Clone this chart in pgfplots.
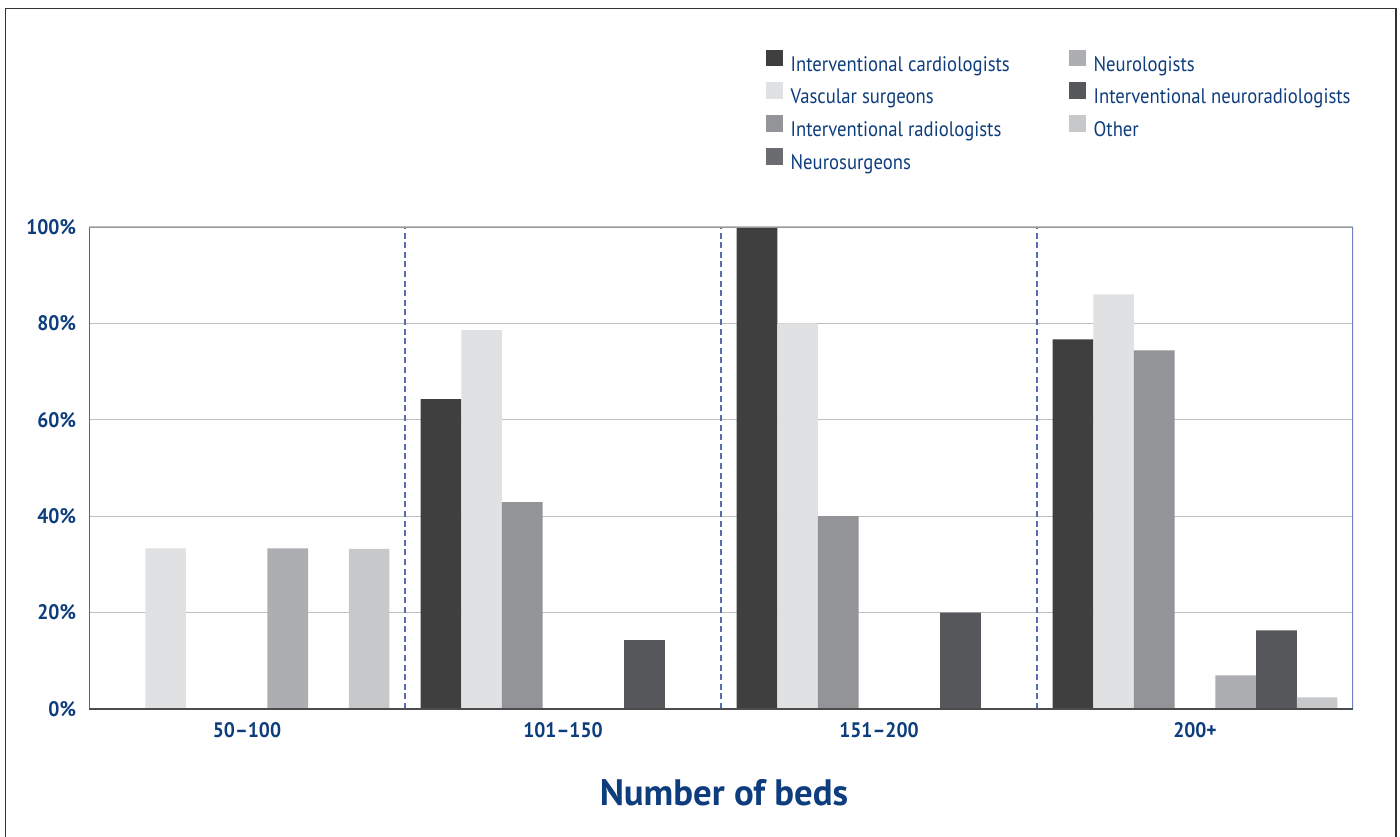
\documentclass[border=0pt]{standalone}
\usepackage{pgfplots}
\pgfplotsset{compat=1.18}
\usepackage{fontspec}
\setmainfont{PT Sans}
\newfontfamily\legfont{PT Sans}[FakeStretch=0.89]
\newfontfamily\tickfont{PT Sans}[FakeStretch=0.93]
\definecolor{txtblue}{RGB}{14,61,125}
\definecolor{sepblue}{RGB}{88,108,175}
\definecolor{rightblue}{RGB}{112,128,195}
\definecolor{cA}{HTML}{3F3F3F}
\definecolor{cB}{HTML}{E0E1E3}
\definecolor{cC}{HTML}{939497}
\definecolor{cD}{HTML}{6B6C70}
\definecolor{cE}{HTML}{ADAEB1}
\definecolor{cF}{HTML}{56575A}
\definecolor{cG}{HTML}{C7C8CA}
\pgfplotsset{sq/.style={legend image code/.code={\fill[##1] (0pt,-0.3pt) rectangle (8.5pt,8pt);}}}
\begin{document}
\begin{tikzpicture}
\useasboundingbox (0,0) rectangle (700pt,418pt);
\draw[line width=0.8pt, color=black!80] (2.75pt,-2pt) -- (2.75pt,413.75pt) -- (698pt,413.75pt) -- (698pt,-2pt);
\begin{axis}[
  at={(44.5pt,63.5pt)}, anchor=south west,
  scale only axis, width=632pt, height=241pt,
  ybar=0pt, bar width=20.35pt,
  xmin=-0.5, xmax=3.5, ymin=0, ymax=100,
  xtick={0,1,2,3},
  xticklabels={50–100,101–150,151–200,200+},
  ytick={0,20,40,60,80,100},
  yticklabel={\pgfmathprintnumber{\tick}\%},
  /pgf/number format/assume math mode=true,
  tick label style={font=\tickfont\bfseries\fontsize{10.5}{12}\selectfont, text=txtblue},
  yticklabel style={xshift=-3pt},
  xticklabel style={yshift=-3.3pt},
  major tick length=0pt,
  ymajorgrids,
  major grid style={color=black!25, line width=0.6pt},
  extra x ticks={0.5,1.5,2.5},
  extra x tick labels={},
  extra x tick style={grid=major, major grid style={color=sepblue, line width=1pt, dash pattern=on 3pt off 1.8pt}},
  axis line style={draw=none},
  xlabel={Number of beds},
  xlabel style={at={(axis description cs:0.5,0)}, anchor=center, yshift=-42pt, xshift=1.5pt, font=\bfseries\fontsize{18.4}{21}\selectfont, text=txtblue},
  legend style={draw=none, fill=none, at={(0.535,1.369)}, anchor=north west,
    font=\legfont\fontsize{10.5}{12}\selectfont, text=txtblue, inner xsep=0pt, inner ysep=0pt,
    nodes={inner xsep=0pt, inner ysep=0pt, text height=8pt, text depth=2.5pt},
    row sep=3.2pt,
    /tikz/every odd column/.style={column sep=4pt},
    /tikz/every even column/.style={column sep=0pt}},
  legend columns=4, transpose legend,
  legend cell align=left,
]
\addplot[fill=cA, draw=none, sq] coordinates {(0,0) (1,64.3) (2,100) (3,76.7)};
\addlegendentry{\makebox[139pt][l]{Interventional cardiologists}}
\addplot[fill=cB, draw=none, sq] coordinates {(0,33.3) (1,78.6) (2,80) (3,86.0)};
\addlegendentry{\makebox[139pt][l]{Vascular surgeons}}
\addplot[fill=cC, draw=none, sq] coordinates {(0,0) (1,42.9) (2,40) (3,74.4)};
\addlegendentry{\makebox[139pt][l]{Interventional radiologists}}
\addplot[fill=cD, draw=none, sq] coordinates {(0,0) (1,0) (2,0) (3,0)};
\addlegendentry{\makebox[139pt][l]{Neurosurgeons}}
\addplot[fill=cE, draw=none, sq] coordinates {(0,33.3) (1,0) (2,0) (3,7.0)};
\addlegendentry{Neurologists}
\addplot[fill=cF, draw=none, sq] coordinates {(0,0) (1,14.3) (2,20) (3,16.3)};
\addlegendentry{Interventional neuroradiologists}
\addplot[fill=cG, draw=none, sq] coordinates {(0,33.2) (1,0) (2,0) (3,2.4)};
\addlegendentry{Other}
\draw[color=black!60, line width=0.8pt] (rel axis cs:0,0) -- (rel axis cs:0,1);
\draw[color=black!40, line width=0.8pt] (rel axis cs:0,1) -- (rel axis cs:1,1);
\draw[color=rightblue, line width=0.8pt] (rel axis cs:1,1) -- (rel axis cs:1,0);
\draw[color=black!70, line width=0.9pt] (rel axis cs:0,0) -- (rel axis cs:1,0);
\end{axis}
\end{tikzpicture}
\end{document}
